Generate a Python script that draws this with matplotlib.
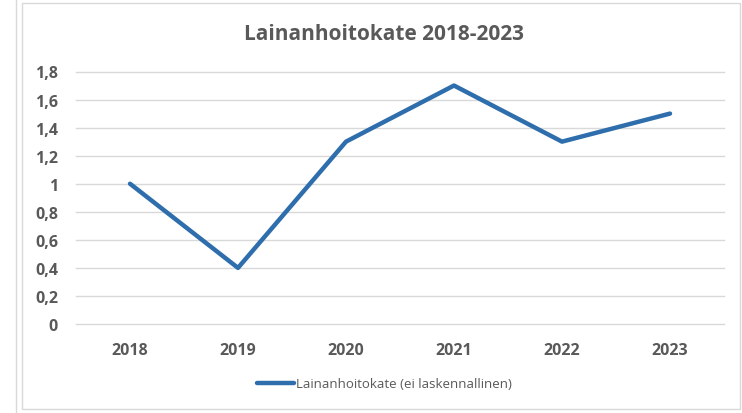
import matplotlib.pyplot as plt
from matplotlib.patches import Rectangle
from matplotlib.lines import Line2D

years = ['2018', '2019', '2020', '2021', '2022', '2023']
values = [1.0, 0.4, 1.3, 1.7, 1.3, 1.5]
yticks = [0, 0.2, 0.4, 0.6, 0.8, 1.0, 1.2, 1.4, 1.6, 1.8]
ytick_labels = ['0', '0,2', '0,4', '0,6', '0,8', '1', '1,2', '1,4', '1,6', '1,8']

plt.rcParams['font.family'] = ['Open Sans', 'DejaVu Sans']
txt = '#595959'
blue = '#2F6EAC'

fig = plt.figure(figsize=(7.42, 4.14), dpi=100)
W, H = 742, 414

# chart frame
fig.add_artist(Line2D([16 / W, 16 / W], [0, 1], color='#D9D9D9', lw=1))
fig.add_artist(Rectangle((22 / W, 1 - 410 / H), (740 - 22) / W, (410 - 4) / H,
                         fill=False, edgecolor='#D9D9D9', lw=1))

ax = fig.add_axes([76 / W, 1 - 325 / H, 648 / W, (325 - 72.5) / H])
x = list(range(len(years)))
ax.plot(x, values, color=blue, lw=3.2, solid_capstyle='round',
        label='Lainanhoitokate (ei laskennallinen)')
ax.set_xlim(-0.5, len(years) - 0.5)
ax.set_ylim(0, 1.8)
ax.set_yticks(yticks)
ax.set_yticklabels(ytick_labels)
ax.set_xticks(x)
ax.set_xticklabels(years)
ax.grid(axis='y', color='#D9D9D9', lw=1)
ax.set_axisbelow(True)
for gl in ax.get_ygridlines():
    gl.set_clip_on(False)
for s in ax.spines.values():
    s.set_visible(False)
ax.tick_params(length=0, colors=txt, labelsize=11.5)
ax.tick_params(axis='y', pad=13)
ax.tick_params(axis='x', pad=13)
for lab in ax.get_xticklabels() + ax.get_yticklabels():
    lab.set_fontweight('bold')

fig.text(384 / W, 1 - 35 / H, 'Lainanhoitokate 2018-2023', ha='center', va='center',
         fontsize=15, fontweight='bold', color=txt)

leg = ax.legend(loc='center', bbox_to_anchor=(384 / W, 1 - 385 / H),
                bbox_transform=fig.transFigure, frameon=False, fontsize=9.5,
                handlelength=2.8, handletextpad=0.15)
for t in leg.get_texts():
    t.set_color(txt)

fig.savefig('out.png', dpi=100)
